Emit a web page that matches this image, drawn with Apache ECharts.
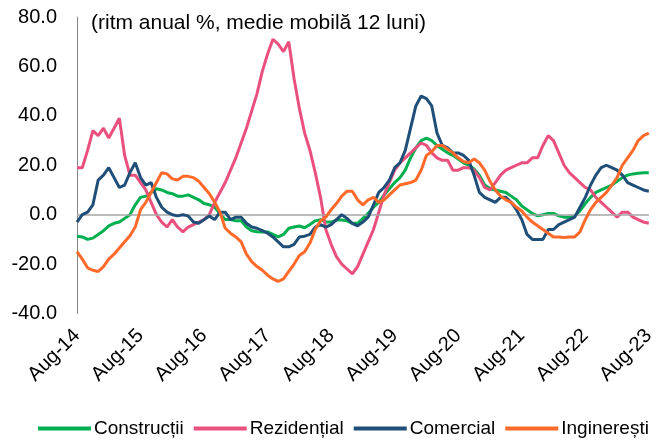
<!DOCTYPE html>
<html>
<head>
<meta charset="utf-8">
<script src="https://cdn.jsdelivr.net/npm/echarts@6/dist/echarts.min.js"></script>
<style>
html,body{margin:0;padding:0;background:#fff;}
#chart{width:658px;height:441px;}
</style>
</head>
<body>
<div id="chart"></div>
<script>
var monthNames = ['Aug','Sep','Oct','Nov','Dec','Jan','Feb','Mar','Apr','May','Jun','Jul'];
var startYear = 14;
var nMonths = 109;
var categories = [];
for (var k = 0; k < nMonths; k++) {
  var yr = startYear + Math.floor((k + 7) / 12);
  categories.push(monthNames[k % 12] + '-' + yr);
}

var seriesNames = ['Construcții', 'Rezidențial', 'Comercial', 'Inginerești'];

var constructii = [
  -8.7,-9,-10,-9.5,-8,-6.5,-4.5,-3.5,-3,-1.5,
  0,4,7,7.5,9,10.5,10,9,8.5,7.5,
  7.5,8,7,6,4.5,4,3,0.5,-2,-2,
  -2.5,-2.5,-5,-6.5,-6.9,-7,-7,-8,-9,-8,
  -5.5,-5,-4.6,-5.3,-4,-2.5,-2,-3,-3,-2.2,
  -2.2,-2.5,-3.5,-3.5,-1.5,0.5,3,5,8,10.5,
  13,15,18,23,27,30,31,30,28,26.5,
  25,24,22.5,21,20,18.5,16,12,10.5,10,
  9.5,9,7.5,6,3.5,2,0.5,-0.5,0,0.5,
  0.5,-0.5,-1,-1,-0.5,1.5,4.5,7,9,10,
  11,12,13.5,15,16,16.5,16.8,17,17
];

var rezidential = [
  19,19,26,34,32,35,31,35,39,24,
  16,16,13,10,5,0,-3,-5,-2,-5,
  -7,-5,-4,-3,-2,0,5,9,13,18,
  23,29,35,42,49,58,65,71,69,66,
  70,55,43,33,26,17,7,-6,-12,-17,
  -20,-22,-24,-21,-16,-11,-6,1,8,13,
  18,21,23,25,27,29,28,25,23,22,
  22,18,18,19,19,18,15,11,10,13,
  16,18,19,20,21,21,23,23,28,32,
  30,25,20,17,15,13,11,10,7,5,
  3,1,-1,1,1,-1,-2,-3,-3.5
];

var comercial = [
  -3,0,1,4,14,16,19,15,11,12,
  17,21,15,12,13,7,3,1,0,-0.5,
  0,-0.5,-3,-3.5,-2,-0.5,-2,1,1,-2,
  -1,-1,-3.5,-5,-5.5,-6.5,-7.5,-9,-11,-13,
  -13,-12,-9,-8.7,-8,-5,-4,-5,-4,-2,
  0,-1.5,-3.5,-4.5,-3,-1,4,9,11,14,
  19,21,26,35,44,48,47,44,33,28,
  27,25,25,24,22,16,9,7,6,5,
  7,7,5,2,-2,-8,-10,-10,-10,-6,
  -6,-4,-3,-2,-1,3,7,12,16,19,
  20,19,18,16,13,12,11,10,9.5
];

var ingineresti = [
  -15,-18,-21.5,-22.5,-23,-21,-18,-16,-13.5,-11,
  -8.5,-5,2,5,9,13,17,16.5,14.5,14,
  15.5,15.5,15,13.5,11,8.5,5,1,-5.5,-7.5,
  -9,-11,-16,-19,-21,-22.5,-24.5,-26,-27,-26,
  -23,-20,-16.5,-15,-11.5,-6,-2.5,-1,2,4.5,
  7.5,9.5,9.5,6,4,6,7,5,6,8,
  10,12,12.5,13,14,18,24,25.5,28,28,
  26.5,25,23,21.5,21,22.5,21,18,13.5,10,
  7.5,6,5,3,1.5,-1,-3,-4.5,-6,-7.5,
  -9,-9,-9.2,-9,-9,-7,-2,2,5,7,
  9,12,15,20,23,26,30,32,33
];

var yTicks = {min: -40, max: 80, interval: 20};
var titleText = '(ritm anual %, medie mobilă 12 luni)';
var colors = ['#00b050', '#e9507d', '#1f4e79', '#ff6a2b'];
var FONT = 'Liberation Sans, Arial, sans-serif';

var dataList = [constructii, rezidential, comercial, ingineresti];
var series = seriesNames.map(function (n, i) {
  var s = {
    name: n,
    type: 'line',
    data: dataList[i],
    showSymbol: false,
    symbol: 'none',
    lineStyle: {width: 3, color: colors[i]},
    itemStyle: {color: colors[i]},
    animation: false,
    z: 3 + i
  };
  if (i === 0) {
    s.markLine = {
      silent: true,
      symbol: 'none',
      label: {show: false},
      lineStyle: {color: '#a6a6a6', width: 1.5, type: 'solid'},
      data: [{yAxis: 0}],
      animation: false
    };
  }
  return s;
});

var chart = echarts.init(document.getElementById('chart'), null, {renderer: 'canvas'});
chart.setOption({
  backgroundColor: '#ffffff',
  animation: false,
  color: colors,
  title: {
    text: titleText,
    left: 86,
    top: 8,
    textStyle: {fontFamily: FONT, fontSize: 21, fontWeight: 'normal', color: '#000'}
  },
  legend: {
    data: seriesNames,
    left: 33,
    top: 414,
    icon: 'rect',
    itemWidth: 53,
    itemHeight: 4,
    itemGap: 10,
    textStyle: {fontFamily: FONT, fontSize: 19, color: '#000', padding: [0, 0, 0, -2]}
  },
  grid: {left: 77, right: 3, top: 17, bottom: 127.5, containLabel: false},
  xAxis: {
    type: 'category',
    data: categories,
    boundaryGap: false,
    axisLine: {show: false, onZero: false},
    axisTick: {show: false},
    axisLabel: {
      interval: function (idx) { return idx % 12 === 0; },
      rotate: 45,
      margin: 19,
      fontFamily: FONT,
      fontSize: 20,
      color: '#000'
    },
    splitLine: {show: false}
  },
  yAxis: {
    type: 'value',
    min: yTicks.min,
    max: yTicks.max,
    interval: yTicks.interval,
    axisLine: {show: true, lineStyle: {color: '#868686', width: 1}},
    axisTick: {show: false},
    splitLine: {show: false},
    axisLabel: {
      margin: 20,
      fontFamily: FONT,
      fontSize: 20,
      color: '#000',
      formatter: function (v) { return v.toFixed(1); }
    }
  },
  series: series
});
</script>
</body>
</html>
